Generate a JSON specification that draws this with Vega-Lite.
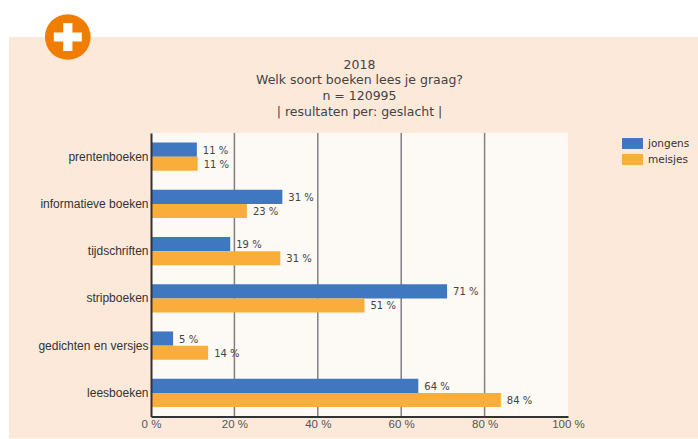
{
"$schema":"https://vega.github.io/schema/vega-lite/v6.json",
"autosize":"none",
"width":417,"height":283.5,
"padding":{"left":151,"top":133,"right":130,"bottom":22.5},
"background":"#ffffff",
"view":{"stroke":null},
"title":{"text":["2018","Welk soort boeken lees je graag?","n = 120995","| resultaten per: geslacht |"],"font":"DejaVu Sans","fontSize":12.5,"fontWeight":"normal","color":"#444444","lineHeight":15.7,"anchor":"middle","offset":-104,"frame":"group"},
"resolve":{"scale":{"y":"independent"}},
"layer":[
{"layer":[
{"data":{"values":[{"x0":-34.05,"x1":131.2,"y0":-22,"y1":379.5}]},"mark":{"type":"rect","fill":"#fde9da"},
"encoding":{"x":{"field":"x0","type":"quantitative","scale":{"domain":[0,100],"nice":false},"axis":{"title":null,"zindex":1,"grid":false,"values":[0,20,40,60,80,100],"labelExpr":"datum.value + ' %'","domainColor":"#333333","domainWidth":2,"ticks":false,"labelPadding":2,"labelFont":"Liberation Sans","labelFontSize":11.5,"labelColor":"#555555","labelOverlap":false,"labelFlush":false}},"x2":{"field":"x1"},
"y":{"field":"y0","type":"quantitative","scale":{"domain":[0,283.5],"nice":false,"zero":false},"axis":null},"y2":{"field":"y1"}}},
{"data":{"values":[{"x0":0,"x1":100,"y0":0,"y1":283.5}]},"mark":{"type":"rect","fill":"#fdf9f5"},
"encoding":{"x":{"field":"x0","type":"quantitative","scale":{"domain":[0,100],"nice":false},"axis":{"title":null,"zindex":1,"grid":false,"values":[0,20,40,60,80,100],"labelExpr":"datum.value + ' %'","domainColor":"#333333","domainWidth":2,"ticks":false,"labelPadding":2,"labelFont":"Liberation Sans","labelFontSize":11.5,"labelColor":"#555555","labelOverlap":false,"labelFlush":false}},"x2":{"field":"x1"},
"y":{"field":"y0","type":"quantitative","scale":{"domain":[0,283.5],"nice":false,"zero":false},"axis":null},"y2":{"field":"y1"}}},
{"data":{"values":[{"g":20},{"g":40},{"g":60},{"g":80}]},"mark":{"type":"rule","color":"#808080","strokeWidth":1.5},
"encoding":{"x":{"field":"g","type":"quantitative","scale":{"domain":[0,100],"nice":false},"axis":{"title":null,"zindex":1,"grid":false,"values":[0,20,40,60,80,100],"labelExpr":"datum.value + ' %'","domainColor":"#333333","domainWidth":2,"ticks":false,"labelPadding":2,"labelFont":"Liberation Sans","labelFontSize":11.5,"labelColor":"#555555","labelOverlap":false,"labelFlush":false}}}},
{"data":{"values":[{"bx":-19.95,"by":379.5}]},"mark":{"type":"point","filled":true,"shape":"circle","size":2088,"color":"#f07d00","opacity":1},
"encoding":{"x":{"field":"bx","type":"quantitative","scale":{"domain":[0,100],"nice":false},"axis":{"title":null,"zindex":1,"grid":false,"values":[0,20,40,60,80,100],"labelExpr":"datum.value + ' %'","domainColor":"#333333","domainWidth":2,"ticks":false,"labelPadding":2,"labelFont":"Liberation Sans","labelFontSize":11.5,"labelColor":"#555555","labelOverlap":false,"labelFlush":false}},
"y":{"field":"by","type":"quantitative","scale":{"domain":[0,283.5],"nice":false,"zero":false},"axis":null}}},
{"data":{"values":[{"bx":-19.95,"by":379.5}]},"mark":{"type":"point","filled":true,"shape":"M-0.33,-1H0.33V-0.33H1V0.33H0.33V1H-0.33V0.33H-1V-0.33H-0.33Z","size":784,"color":"#ffffff","opacity":1},
"encoding":{"x":{"field":"bx","type":"quantitative","scale":{"domain":[0,100],"nice":false},"axis":{"title":null,"zindex":1,"grid":false,"values":[0,20,40,60,80,100],"labelExpr":"datum.value + ' %'","domainColor":"#333333","domainWidth":2,"ticks":false,"labelPadding":2,"labelFont":"Liberation Sans","labelFontSize":11.5,"labelColor":"#555555","labelOverlap":false,"labelFlush":false}},
"y":{"field":"by","type":"quantitative","scale":{"domain":[0,283.5],"nice":false,"zero":false},"axis":null}}}
]},
{"data":{"values":[
{"soort":"prentenboeken","geslacht":"jongens","pct":11,"label":"11 %"},
{"soort":"prentenboeken","geslacht":"meisjes","pct":11.2,"label":"11 %"},
{"soort":"informatieve boeken","geslacht":"jongens","pct":31.5,"label":"31 %"},
{"soort":"informatieve boeken","geslacht":"meisjes","pct":23,"label":"23 %"},
{"soort":"tijdschriften","geslacht":"jongens","pct":19,"label":"19 %"},
{"soort":"tijdschriften","geslacht":"meisjes","pct":31,"label":"31 %"},
{"soort":"stripboeken","geslacht":"jongens","pct":71,"label":"71 %"},
{"soort":"stripboeken","geslacht":"meisjes","pct":51.2,"label":"51 %"},
{"soort":"gedichten en versjes","geslacht":"jongens","pct":5.3,"label":"5 %"},
{"soort":"gedichten en versjes","geslacht":"meisjes","pct":13.7,"label":"14 %"},
{"soort":"leesboeken","geslacht":"jongens","pct":64.1,"label":"64 %"},
{"soort":"leesboeken","geslacht":"meisjes","pct":83.9,"label":"84 %"}
]},
"encoding":{
"y":{"field":"soort","type":"nominal","sort":null,"scale":{"paddingInner":0.4,"paddingOuter":0.2},
"axis":{"title":null,"zindex":1,"domainColor":"#333333","domainWidth":2,"ticks":false,"labelPadding":3,"labelFont":"Liberation Sans","labelFontSize":12,"labelColor":"#333333","labelLimit":200}},
"yOffset":{"field":"geslacht","type":"nominal","scale":{"paddingInner":0,"paddingOuter":0}},
"x":{"field":"pct","type":"quantitative","scale":{"domain":[0,100],"nice":false},
"axis":{"title":null,"zindex":1,"grid":false,"values":[0,20,40,60,80,100],"labelExpr":"datum.value + ' %'","domainColor":"#333333","domainWidth":2,"ticks":false,"labelPadding":2,"labelFont":"Liberation Sans","labelFontSize":11.5,"labelColor":"#555555","labelOverlap":false,"labelFlush":false}}
},
"layer":[
{"mark":{"type":"bar"},"encoding":{
"color":{"field":"geslacht","type":"nominal","scale":{"domain":["jongens","meisjes"],"range":["#4077c1","#f9ae3c"]},
"legend":{"title":null,"orient":"none","legendX":471,"legendY":0,"symbolType":"M-1,-0.52H1V0.52H-1Z","symbolSize":441,"symbolStrokeWidth":0,"labelFont":"DejaVu Sans","labelFontSize":10.5,"labelColor":"#333333","labelOffset":5,"rowPadding":0,"symbolOpacity":1}}}},
{"mark":{"type":"text","align":"left","baseline":"middle","dx":6,"dy":1,"font":"DejaVu Sans","fontSize":10,"color":"#444444"},"encoding":{"text":{"field":"label"}}}
]}
]
}
